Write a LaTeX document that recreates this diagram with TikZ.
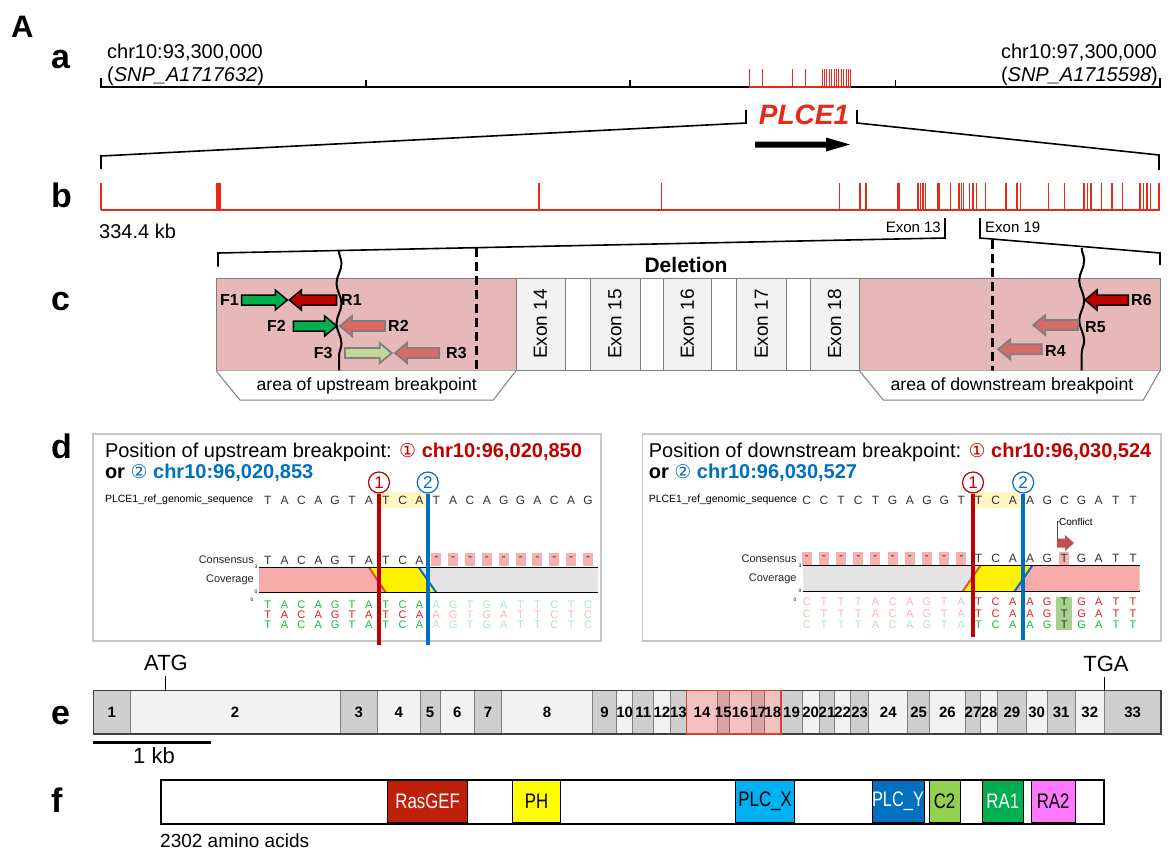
\documentclass[tikz,border=0pt]{standalone}
\usepackage{fontspec}
\setmainfont{Liberation Sans}
\newfontfamily\djv{DejaVu Sans}
\usetikzlibrary{decorations.pathmorphing,calc}
\newcommand\fsz[1]{\fontsize{#1}{#1}\selectfont}
\definecolor{gred}{RGB}{232,40,24}
\definecolor{pinkbg}{RGB}{230,184,183}
\definecolor{exongray}{RGB}{242,242,242}
\definecolor{bordergray}{RGB}{127,127,127}
\definecolor{panelgray}{RGB}{200,200,200}
\definecolor{pgreen}{RGB}{0,176,80}
\definecolor{pdred}{RGB}{192,0,0}
\definecolor{psalmon}{RGB}{218,105,105}
\definecolor{plgreen}{RGB}{196,215,155}
\definecolor{dred}{RGB}{192,0,0}
\definecolor{dblue}{RGB}{0,112,192}
\definecolor{covpink}{RGB}{247,170,170}
\definecolor{covgray}{RGB}{228,228,228}
\definecolor{hlyellow}{RGB}{255,246,196}
\definecolor{conspink}{RGB}{247,176,176}
\definecolor{rdgreen}{RGB}{20,190,60}
\definecolor{rdgreenf}{RGB}{180,230,188}
\definecolor{rdred}{RGB}{230,30,30}
\definecolor{rdredf}{RGB}{245,185,185}
\definecolor{egray}{RGB}{208,206,206}
\definecolor{elight}{RGB}{242,242,242}
\definecolor{ovred}{RGB}{208,69,58}
\definecolor{rasgef}{RGB}{192,32,10}
\definecolor{phy}{RGB}{255,255,0}
\definecolor{plcx}{RGB}{0,176,240}
\definecolor{plcy}{RGB}{0,112,192}
\definecolor{ctwo}{RGB}{146,208,80}
\definecolor{raone}{RGB}{0,176,80}
\definecolor{ratwo}{RGB}{255,119,255}
\definecolor{confgreen}{RGB}{169,209,142}
\definecolor{confarrow}{RGB}{192,80,77}
\newcommand\barrow[4]{%
  \pgfmathsetmacro\hbase{#2+((#1>#2)?12:-12)}%
  \draw[#4] (#1,#3-5) -- (\hbase,#3-5) -- (\hbase,#3-10) -- (#2,#3) -- (\hbase,#3+10) -- (\hbase,#3+5) -- (#1,#3+5) -- cycle;}
\begin{document}
\begin{tikzpicture}[x=1pt,y=-1pt,
  lab/.style={font=\fsz{34}\bfseries, inner sep=0, anchor=base west},
  tx/.style={inner sep=0, font=\fsz{20}},
  redtick/.style={gred, line width=1.5},
  brk/.style={line width=1.6, black},
  pl/.style={font=\fsz{16}\bfseries, inner sep=0},
  greenar/.style={fill=pgreen, draw=black, line width=1.5},
  redar/.style={fill=pdred, draw=black, line width=1.5},
  salar/.style={fill=psalmon, draw=bordergray, line width=1.8},
  lgar/.style={fill=plgreen, draw=bordergray, line width=1.8},
  seq/.style={font=\fsz{12}, inner sep=0, text=black!80},
  rd/.style={font=\fsz{11}, inner sep=0},
  small/.style={font=\fsz{11}, inner sep=0, text=black!85},
  tiny/.style={font=\fsz{5}, inner sep=0},
  cmark/.style={circle, line width=1.2, inner sep=0, minimum size=21, font=\fsz{17}},
  dom/.style={draw=black, line width=0.8, inner sep=0, minimum height=42, font=\fsz{21}},
  elab/.style={font=\fsz{15}\bfseries, inner sep=0}
]
\useasboundingbox (0,0) rectangle (1171,852);
\fill[white] (0,0) rectangle (1171,852);

% ---------------- part a
\node[font=\fsz{31}\bfseries, inner sep=0, anchor=base west] (A) at (11,37) {A};
\node[lab] (la) at (51,68) {a};
\node[tx, anchor=base west] (chrL) at (107,58) {chr10:93,300,000};
\node[tx, anchor=base west] (snpL) at (107,81) {(\textit{SNP\_A1717632})};
\node[tx, anchor=base east] (chrR) at (1157,58) {chr10:97,300,000};
\node[tx, anchor=base east] (snpR) at (1158,81) {(\textit{SNP\_A1715598})};
\draw[line width=2] (101,78) -- (101,87.3) -- (1160,87.3) -- (1160,78);
\foreach \x in {366,630,895.5} \draw[line width=1.5] (\x,80) -- (\x,87.3);
\draw[gred, line width=2] (748.5,87.3) -- (851.4,87.3);
\foreach \x in {749,762,792,805,822,824.4,...,851} \draw[gred, line width=0.8] (\x,69.3) -- (\x,87.3);
\node[font=\fsz{28}\bfseries\itshape, text=gred, inner sep=0, anchor=base] (plce) at (804,124) {PLCE1};
\draw[brk] (746,110) -- (746,123) -- (101,156) -- (101,169);
\draw[brk] (857,110) -- (857,123) -- (1159,155) -- (1159,170);
\fill (755,141.5) -- (826,141.5) -- (826,137.5) -- (850,144.5) -- (826,151.5) -- (826,147.5) -- (755,147.5) -- cycle;

% ---------------- part b
\node[lab] (lb) at (51,207) {b};
\draw[gred, line width=2.5] (101,210) -- (1160,210);
\foreach \x in {101,539,661.5,839.6,860,866,918,920.4,922.9,925.7,938,939.7,950.3,959,961.5,963.6,969.6,973,976.6,985.4,1005.8,1017,1020.6,1048.7,1064.5,1083.8,1087.3,1090.8,1101.4,1112,1122.5,1140,1143.5,1147,1150.6,1159}
  \draw[redtick] (\x,183) -- (\x,210);
\draw[gred, line width=5] (218,183) -- (218,210);
\draw[gred, line width=3] (898.6,183) -- (898.6,210);
\node[tx, anchor=base west] (kb) at (99,238) {334.4 kb};
\node[font=\fsz{15}, inner sep=0, anchor=base east] (ex13) at (941,232) {Exon 13};
\node[font=\fsz{15}, inner sep=0, anchor=base west] (ex19) at (985,232) {Exon 19};
\draw[brk] (945,218) -- (945,238) -- (218,253) -- (218,266.7);
\draw[brk] (980,218) -- (980,238) -- (1160,253) -- (1160,265);

% ---------------- part c
\node[lab] (lc) at (51,310) {c};
\filldraw[fill=pinkbg, draw=bordergray, line width=1] (216,278.3) rectangle (516,370.7);
\filldraw[fill=pinkbg, draw=bordergray, line width=1] (859.3,278.3) rectangle (1160,370.7);
\foreach \xa/\xb in {565/590,640/663,711.7/736.7,786/810}
  \filldraw[fill=white, draw=bordergray, line width=1] (\xa,278.3) rectangle (\xb,370.7);
\foreach \xa/\xb/\n in {516/565/14,590/640/15,663/711.7/16,736.7/786/17,810/859.3/18} {
  \filldraw[fill=exongray, draw=bordergray, line width=1] (\xa,278.3) rectangle (\xb,370.7);
  \node[font=\fsz{19}, inner sep=0, rotate=90] (cex\n) at ({(\xa+\xb)/2},324) {Exon \n};
}
\node[font=\fsz{21}\bfseries, inner sep=0, anchor=base] (del) at (686,272) {Deletion};
\draw[line width=2, decorate, decoration={snake, amplitude=2.5pt, segment length=40pt}] (339,251) -- (339,370.7);
\draw[line width=2, decorate, decoration={snake, amplitude=2.5pt, segment length=40pt}] (1081.7,248) -- (1081.7,370.7);
\draw[line width=3, dash pattern=on 9pt off 5pt] (476,248) -- (476,370.7);
\draw[line width=3, dash pattern=on 9pt off 5pt] (992.7,240) -- (992.7,370.7);
% primers
\node[pl] (F1) at (229.5,300) {F1};
\barrow{241.7}{287.3}{300}{greenar}
\barrow{336.7}{289.3}{300}{redar}
\node[pl, anchor=west] (R1) at (341,300) {R1};
\node[pl] (F2) at (276.5,326) {F2};
\barrow{293.3}{336.7}{326}{greenar}
\barrow{385}{340}{326}{salar}
\node[pl, anchor=west] (R2) at (388,326) {R2};
\node[pl] (F3) at (323.3,353) {F3};
\barrow{345}{391.7}{353}{lgar}
\barrow{439.3}{395}{353}{salar}
\node[pl, anchor=west] (R3) at (446,353) {R3};
\barrow{1128.3}{1085}{300}{redar}
\node[pl, anchor=west] (R6) at (1131,300) {R6};
\barrow{1078.3}{1033.3}{325}{salar}
\node[pl, anchor=west] (R5) at (1085,327) {R5};
\barrow{1041.7}{998.3}{349.3}{salar}
\node[pl, anchor=west] (R4) at (1045,351) {R4};
% trapezoids
\filldraw[fill=white, draw=bordergray, line width=1] (216,370.7) -- (240,400) -- (493.3,400) -- (516,370.7);
\node[font=\fsz{17.6}, inner sep=0] (up) at (366.7,386) {area of upstream breakpoint};
\filldraw[fill=white, draw=bordergray, line width=1] (859.3,370.7) -- (883.3,400) -- (1143.3,400) -- (1160,370.7);
\node[font=\fsz{17.6}, inner sep=0] (down) at (1012,386) {area of downstream breakpoint};

% ---------------- part d
\node[lab] (ld) at (51,458) {d};
\node[draw=panelgray, line width=1.5, minimum width=508, minimum height=206.7, anchor=north west, inner sep=0] (panelL) at (92,433.3) {};
\node[draw=panelgray, line width=1.5, minimum width=518.5, minimum height=207, anchor=north west, inner sep=0] (panelR) at (641.5,433) {};
\node[tx, anchor=base west] (tL1) at (104.8,457.7) {Position of upstream breakpoint: \textcolor{dred}{{\djv\fsz{19}①} \textbf{chr10:96,020,850}}};
\node[tx, anchor=base west] (tL2) at (104.8,478.3) {\textbf{or} \textcolor{dblue}{{\djv\fsz{19}②} \textbf{chr10:96,020,853}}};
\node[tx, anchor=base west] (tR1) at (648.6,457.7) {Position of downstream breakpoint: \textcolor{dred}{{\djv\fsz{19}①} \textbf{chr10:96,030,524}}};
\node[tx, anchor=base west] (tR2) at (648.6,478.3) {\textbf{or} \textcolor{dblue}{{\djv\fsz{19}②} \textbf{chr10:96,030,527}}};

% left panel
\def\xL{267.7}\def\dL{16.86}
\fill[hlyellow] (377.3,492) rectangle (427.9,508);
\node[font=\fsz{10.5}, inner sep=0, anchor=west] (refL) at (104.8,500) {PLCE1\_ref\_genomic\_sequence};
\foreach \c [count=\i from 0] in {T,A,C,A,G,T,A,T,C,A,T,A,C,A,G,G,A,C,A,G}
  \node[seq] (rL\i) at (\xL+\i*\dL,500) {\c};
\node[small, anchor=east] (consL) at (254,560) {Consensus};
\foreach \c [count=\i from 0] in {T,A,C,A,G,T,A,T,C,A}
  \node[seq] (cL\i) at (\xL+\i*\dL,560) {\c};
\foreach \i in {10,...,19} {
  \fill[conspink] (\xL+\i*\dL-5,553) rectangle (\xL+\i*\dL+5,566);
  \node[seq] (cL\i) at (\xL+\i*\dL,559) {-};
}
\fill[covpink] (259,567.7) -- (369.3,567.7) -- (386,592.7) -- (259,592.7) -- cycle;
\fill[yellow] (369.3,567.7) -- (419,567.7) -- (436.4,592.7) -- (386,592.7) -- cycle;
\fill[covgray] (419,567.7) -- (598,567.7) -- (598,592.7) -- (436.4,592.7) -- cycle;
\draw[dred, opacity=0.6, line width=2] (369.3,567.7) -- (386,592.7);
\draw[dblue, line width=2] (419,567.7) -- (436.4,592.7);
\draw[line width=1.5] (259,567.7) -- (598,567.7) (259,592.7) -- (598,592.7);
\node[small, anchor=east] (covL) at (254,580) {Coverage};
\node[tiny] (l3) at (256,567) {3};
\node[tiny] (l0) at (256,592) {0};
\node[tiny] (l00) at (252,600) {0};
\foreach \c [count=\i from 0] in {T,A,C,A,G,T,A,T,C,A,A,G,T,G,A,T,T,C,T,C} {
  \ifnum\i<10 \def\gc{rdgreen}\def\rc{rdred}\else\def\gc{rdgreenf}\def\rc{rdredf}\fi
  \node[rd, text=\gc] (aL\i) at (\xL+\i*\dL,605) {\c};
  \node[rd, text=\rc] (bL\i) at (\xL+\i*\dL,615) {\c};
  \node[rd, text=\gc] (dL\i) at (\xL+\i*\dL,625) {\c};
}
\node[cmark, draw=dred, text=dred] (m1L) at (379,482.5) {1};
\node[cmark, draw=dblue, text=dblue] (m2L) at (427.8,482.5) {2};
\draw[dred, line width=3.5] (m1L.south) -- (379,645);
\draw[dblue, line width=3.5] (m2L.south) -- (427.8,645);

% right panel
\def\xR{806.8}\def\dR{17.17}
\fill[hlyellow] (969.9,492) rectangle (1021.4,508);
\node[font=\fsz{10.5}, inner sep=0, anchor=west] (refR) at (648.6,500) {PLCE1\_ref\_genomic\_sequence};
\foreach \c [count=\i from 0] in {C,C,T,C,T,G,A,G,G,T,T,C,A,A,G,C,G,A,T,T}
  \node[seq] (rR\i) at (\xR+\i*\dR,500) {\c};
\node[font=\fsz{10}, inner sep=0, anchor=west] (conf) at (1059,522) {Conflict};
\draw[black!70, line width=0.8] (1060,521) -- (1057,521) -- (1057,543);
\fill[confarrow] (1057,538.5) -- (1065,538.5) -- (1065,535) -- (1074,543) -- (1065,551) -- (1065,547.5) -- (1057,547.5) -- cycle;
\node[small, anchor=east] (consR) at (796.8,558.3) {Consensus};
\foreach \i in {0,...,9} {
  \fill[conspink] (\xR+\i*\dR-5,551.5) rectangle (\xR+\i*\dR+5,564.5);
  \node[seq] (cR\i) at (\xR+\i*\dR,557.5) {-};
}
\fill[conspink] (\xR+15*\dR-5,551.5) rectangle (\xR+15*\dR+5,564.5);
\foreach \c [count=\i from 10] in {T,C,A,A,G,T,G,A,T,T}
  \node[seq] (cR\i) at (\xR+\i*\dR,558.3) {\c};
\fill[covgray] (803,565.7) -- (980.3,565.7) -- (962.4,591.7) -- (803,591.7) -- cycle;
\fill[yellow] (980.3,565.7) -- (1032.2,565.7) -- (1014.3,591.7) -- (962.4,591.7) -- cycle;
\fill[covpink] (1032.2,565.7) -- (1139.5,565.7) -- (1139.5,591.7) -- (1014.3,591.7) -- cycle;
\draw[dred, opacity=0.6, line width=2] (980.3,565.7) -- (962.4,591.7);
\draw[dblue, line width=2] (1032.2,565.7) -- (1014.3,591.7);
\draw[line width=1.5] (803,565.7) -- (1139.5,565.7) (803,591.7) -- (1139.5,591.7);
\node[small, anchor=east] (covR) at (796.8,578.5) {Coverage};
\node[tiny] (r3) at (800,565.5) {3};
\node[tiny] (r0) at (800,591) {0};
\node[tiny] (r00) at (795,600) {0};
\fill[confgreen] (\xR+15*\dR-8,596.7) rectangle (\xR+15*\dR+8,630);
\foreach \c [count=\i from 0] in {C,T,T,T,A,C,A,G,T,A,T,C,A,A,G,T,G,A,T,T} {
  \ifnum\i<10 \def\gc{rdgreenf}\def\rc{rdredf}\else\def\gc{rdgreen}\def\rc{rdred}\fi
  \ifnum\i=15 \def\gc{black!80}\def\rc{black!80}\fi
  \node[rd, text=\rc] (aR\i) at (\xR+\i*\dR,602) {\c};
  \node[rd, text=\rc] (bR\i) at (\xR+\i*\dR,613.5) {\c};
  \node[rd, text=\gc] (dR\i) at (\xR+\i*\dR,625) {\c};
}
\node[cmark, draw=dred, text=dred] (m1R) at (973,482.5) {1};
\node[cmark, draw=dblue, text=dblue] (m2R) at (1023.2,482.5) {2};
\draw[dred, line width=3.5] (m1R.south) -- (973,636.7);
\draw[dblue, line width=3.5] (m2R.south) -- (1023.2,640);

% ---------------- part e
\node[lab] (le) at (51,724) {e};
\def\eb{{93.6,130,340,377.5,420,440,474.6,501.4,592.5,616.6,632.8,653.9,670,686.7,717.3,729.3,751.1,764.6,781,802.1,819.2,834.9,850.5,868.8,907.7,929.6,965.3,980.6,997.7,1026,1047.2,1075.2,1104.4,1160.8}}
\foreach \i in {1,...,33} {
  \pgfmathsetmacro\xa{\eb[\i-1]}
  \pgfmathsetmacro\xb{\eb[\i]}
  \pgfmathtruncatemacro\odd{mod(\i,2)}
  \ifnum\odd=1 \def\ec{egray}\else\def\ec{elight}\fi
  \filldraw[fill=\ec, draw=bordergray, line width=1] (\xa,690.7) rectangle (\xb,734);
}
\draw[line width=1.5, black!75] (93.6,690.7) rectangle (1160.8,734);
\filldraw[fill=red, fill opacity=0.2, draw=ovred, line width=1.5] (686.7,690.7) rectangle (781,734);
\foreach \i in {1,...,33} {
  \pgfmathsetmacro\xa{\eb[\i-1]}
  \pgfmathsetmacro\xb{\eb[\i]}
  \node[elab] (ex\i) at ({(\xa+\xb)/2},712.3) {\i};
}
\node[font=\fsz{22}, inner sep=0, anchor=base] (atg) at (166,670) {ATG};
\draw[line width=1.5] (165.7,676) -- (165.7,690.7);
\node[font=\fsz{22}, inner sep=0, anchor=base] (tga) at (1106,671.7) {TGA};
\draw[line width=1.5] (1104.4,677) -- (1104.4,690.7);
\draw[line width=3] (92.5,742.3) -- (211.4,742.3);
\node[font=\fsz{22}, inner sep=0, anchor=base] (onekb) at (154,763) {1 kb};

% ---------------- part f
\node[lab] (lf) at (51,812) {f};
\node[draw, line width=2, minimum width=943, minimum height=44, anchor=north west, inner sep=0] (fbar) at (160,779.3) {};
\node[dom, fill=rasgef, text=white, minimum width=80] (d1) at (427.6,801.3) {\scalebox{0.8}[1]{RasGEF}};
\node[dom, fill=phy, text=black, minimum width=47.4] (d2) at (536.5,801.3) {\scalebox{0.8}[1]{PH}};
\node[dom, fill=plcx, text=black, minimum width=59.2] (d3) at (765.1,801.3) {\scalebox{0.8}[1]{PLC\_X}};
\node[dom, fill=plcy, text=white, minimum width=52] (d4) at (898,801.3) {\scalebox{0.78}[1]{PLC\_Y}};
\node[dom, fill=ctwo, text=black, minimum width=31] (d5) at (944.5,801.3) {\scalebox{0.8}[1]{C2}};
\node[dom, fill=raone, text=white, minimum width=40.4] (d6) at (1002.8,801.3) {\scalebox{0.8}[1]{RA1}};
\node[dom, fill=ratwo, text=black, minimum width=43.7] (d7) at (1053.2,801.3) {\scalebox{0.8}[1]{RA2}};
\node[font=\fsz{19}, inner sep=0, anchor=base west] (aa) at (160,847) {2302 amino acids};
\end{tikzpicture}
\end{document}
